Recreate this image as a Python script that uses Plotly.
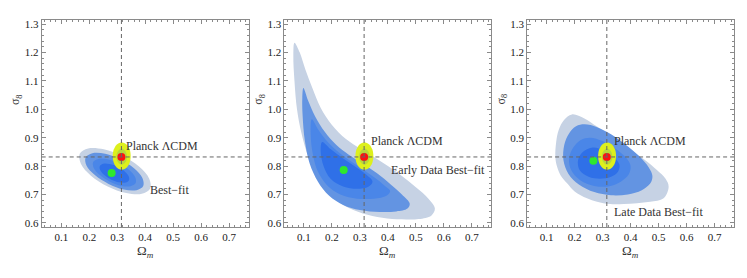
import plotly.graph_objects as go

# ---------------- data ----------------
X_RANGE = [0.03, 0.77]
Y_RANGE = [0.585, 1.315]
X_TICKS = [0.1, 0.2, 0.3, 0.4, 0.5, 0.6, 0.7]
Y_TICKS = [0.6, 0.7, 0.8, 0.9, 1.0, 1.1, 1.2, 1.3]

PLANCK_OM = 0.315
PLANCK_S8 = 0.832

BEST_OM = [0.280, 0.242, 0.267]
BEST_S8 = [0.775, 0.786, 0.819]

# Planck LCDM region (same in the three panels)
PLANCK_C1_X = [0.348, 0.344, 0.332, 0.316, 0.300, 0.288, 0.284, 0.288, 0.300, 0.316, 0.332, 0.344]
PLANCK_C1_Y = [0.835, 0.859, 0.877, 0.883, 0.877, 0.859, 0.835, 0.811, 0.793, 0.787, 0.793, 0.811]
PLANCK_C2_X = [0.335, 0.329, 0.316, 0.303, 0.297, 0.303, 0.316, 0.329]
PLANCK_C2_Y = [0.833, 0.853, 0.862, 0.853, 0.833, 0.813, 0.804, 0.813]
PLANCK_C3_X = [0.325, 0.322, 0.316, 0.310, 0.307, 0.310, 0.316, 0.322]
PLANCK_C3_Y = [0.833, 0.843, 0.847, 0.843, 0.833, 0.823, 0.819, 0.823]

# Panel 1: all data
P1_L1_X = [0.418, 0.414, 0.378, 0.318, 0.252, 0.196, 0.166, 0.170, 0.206, 0.266, 0.332, 0.388]
P1_L1_Y = [0.721, 0.756, 0.798, 0.836, 0.859, 0.862, 0.843, 0.808, 0.766, 0.728, 0.705, 0.702]
P1_L2_X = [0.393, 0.390, 0.360, 0.311, 0.257, 0.211, 0.187, 0.190, 0.220, 0.269, 0.324, 0.369]
P1_L2_Y = [0.730, 0.758, 0.792, 0.823, 0.843, 0.845, 0.830, 0.802, 0.768, 0.737, 0.717, 0.715]
P1_L3_X = [0.366, 0.364, 0.342, 0.306, 0.266, 0.232, 0.214, 0.216, 0.238, 0.274, 0.315, 0.348]
P1_L3_Y = [0.740, 0.761, 0.787, 0.809, 0.824, 0.825, 0.814, 0.793, 0.768, 0.745, 0.730, 0.729]
P1_L4_X = [0.342, 0.341, 0.326, 0.301, 0.273, 0.250, 0.238, 0.239, 0.254, 0.279, 0.307, 0.330]
P1_L4_Y = [0.750, 0.764, 0.782, 0.798, 0.807, 0.808, 0.800, 0.786, 0.768, 0.752, 0.743, 0.742]

# Panel 2: early data
P2_L1_X = [0.066, 0.085, 0.105, 0.130, 0.160, 0.200, 0.250, 0.300, 0.350, 0.400, 0.450, 0.500, 0.545, 0.568,
           0.555, 0.510, 0.450, 0.380, 0.310, 0.245, 0.190, 0.145, 0.113, 0.090, 0.075, 0.066, 0.062]
P2_L1_Y = [1.235, 1.200, 1.140, 1.075, 1.005, 0.945, 0.895, 0.862, 0.832, 0.800, 0.765, 0.725, 0.685, 0.650,
           0.625, 0.613, 0.612, 0.618, 0.633, 0.660, 0.705, 0.770, 0.840, 0.920, 1.000, 1.100, 1.190]
P2_L2_X = [0.098, 0.115, 0.140, 0.175, 0.215, 0.260, 0.310, 0.360, 0.410, 0.450, 0.478,
           0.470, 0.430, 0.370, 0.300, 0.240, 0.190, 0.150, 0.120, 0.103, 0.095, 0.094]
P2_L2_Y = [1.075, 1.030, 0.975, 0.920, 0.875, 0.840, 0.808, 0.775, 0.735, 0.700, 0.668,
           0.650, 0.640, 0.638, 0.645, 0.663, 0.695, 0.745, 0.810, 0.890, 0.980, 1.040]
P2_L3_X = [0.128, 0.150, 0.185, 0.225, 0.270, 0.320, 0.365, 0.395, 0.408,
           0.395, 0.350, 0.290, 0.230, 0.185, 0.150, 0.132, 0.124]
P2_L3_Y = [0.965, 0.930, 0.885, 0.848, 0.815, 0.782, 0.750, 0.725, 0.712,
           0.695, 0.685, 0.685, 0.700, 0.730, 0.780, 0.840, 0.910]
P2_L4_X = [0.165, 0.195, 0.235, 0.280, 0.320, 0.345, 0.330, 0.290, 0.240, 0.195, 0.170, 0.160]
P2_L4_Y = [0.885, 0.860, 0.830, 0.800, 0.772, 0.745, 0.727, 0.720, 0.728, 0.755, 0.800, 0.850]

# Panel 3: late data
P3_L1_X = [0.190, 0.235, 0.280, 0.340, 0.399, 0.450, 0.494, 0.525, 0.536, 0.518, 0.470, 0.423, 0.375,
           0.327, 0.280, 0.244, 0.200, 0.173, 0.150, 0.137, 0.131, 0.134, 0.143, 0.162]
P3_L1_Y = [0.982, 0.968, 0.939, 0.900, 0.857, 0.822, 0.786, 0.755, 0.727, 0.686, 0.674, 0.669, 0.666,
           0.666, 0.674, 0.686, 0.710, 0.739, 0.767, 0.798, 0.833, 0.885, 0.927, 0.962]
P3_L2_X = [0.235, 0.280, 0.330, 0.380, 0.430, 0.465, 0.478, 0.470, 0.440, 0.390, 0.330, 0.270, 0.215,
           0.178, 0.160, 0.163, 0.180, 0.205]
P3_L2_Y = [0.947, 0.937, 0.912, 0.877, 0.835, 0.795, 0.765, 0.738, 0.715, 0.700, 0.697, 0.708, 0.735,
           0.772, 0.820, 0.875, 0.915, 0.940]
P3_L3_X = [0.255, 0.300, 0.345, 0.385, 0.400, 0.393, 0.365, 0.320, 0.270, 0.220, 0.188, 0.180, 0.195, 0.222]
P3_L3_Y = [0.900, 0.888, 0.862, 0.828, 0.800, 0.770, 0.745, 0.728, 0.730, 0.750, 0.785, 0.825, 0.865, 0.892]
P3_L4_X = [0.265, 0.305, 0.340, 0.360, 0.355, 0.330, 0.290, 0.250, 0.218, 0.212, 0.230]
P3_L4_Y = [0.865, 0.855, 0.832, 0.805, 0.780, 0.762, 0.755, 0.762, 0.785, 0.820, 0.850]

LABEL_PLANCK = "Planck ΛCDM"
LABEL_FITS = ["Best−fit", "Early Data Best−fit", "Late Data Best−fit"]
PLANCK_LABEL_POS = [(0.324, 0.871), (0.334, 0.888), (0.334, 0.888)]
FIT_LABEL_POS = [(0.410, 0.715), (0.405, 0.786), (0.334, 0.639)]

# ---------------- styling ----------------
BLUES = ["#c6d2e4", "#6394e2", "#4a86e8", "#2f70e8"]
YELLOWS = ["#ddf01c", "#b8d83c", "#8fc25c"]
SERIF = "Liberation Serif"

panels = [
    [(P1_L1_X, P1_L1_Y), (P1_L2_X, P1_L2_Y), (P1_L3_X, P1_L3_Y), (P1_L4_X, P1_L4_Y)],
    [(P2_L1_X, P2_L1_Y), (P2_L2_X, P2_L2_Y), (P2_L3_X, P2_L3_Y), (P2_L4_X, P2_L4_Y)],
    [(P3_L1_X, P3_L1_Y), (P3_L2_X, P3_L2_Y), (P3_L3_X, P3_L3_Y), (P3_L4_X, P3_L4_Y)],
]
planck = [(PLANCK_C1_X, PLANCK_C1_Y), (PLANCK_C2_X, PLANCK_C2_Y), (PLANCK_C3_X, PLANCK_C3_Y)]

# the page body has an 8px margin; the figure is sized and placed to compensate
PAGE_MARGIN = 8
W, H = 747 - 2 * PAGE_MARGIN, 278 - 2 * PAGE_MARGIN
left_px = [41.7 - PAGE_MARGIN, 284.4 - PAGE_MARGIN, 527.1 - PAGE_MARGIN]
frame_w = 207.0
top_px, bot_px = 20.0 - PAGE_MARGIN, 227.0 - PAGE_MARGIN

fig = go.Figure()


def closed(xs, ys):
    return list(xs) + [xs[0]], list(ys) + [ys[0]]


for i, levels in enumerate(panels):
    xa = "x" if i == 0 else f"x{i+1}"
    ya = "y" if i == 0 else f"y{i+1}"
    for lev, (xs, ys) in enumerate(levels):
        cx, cy = closed(xs, ys)
        fig.add_trace(go.Scatter(x=cx, y=cy, mode="lines", fill="toself", fillcolor=BLUES[lev],
                                 line=dict(width=0, shape="spline", smoothing=1.0, color=BLUES[lev]),
                                 xaxis=xa, yaxis=ya, hoverinfo="skip", showlegend=False))
    for lev, (xs, ys) in enumerate(planck):
        cx, cy = closed(xs, ys)
        fig.add_trace(go.Scatter(x=cx, y=cy, mode="lines", fill="toself", fillcolor=YELLOWS[lev],
                                 line=dict(width=0, shape="spline", smoothing=1.0, color=YELLOWS[lev]),
                                 xaxis=xa, yaxis=ya, hoverinfo="skip", showlegend=False))
    fig.add_trace(go.Scatter(x=[BEST_OM[i]], y=[BEST_S8[i]], mode="markers",
                             marker=dict(color="#2ee82e", size=8, line=dict(width=0)),
                             xaxis=xa, yaxis=ya, hoverinfo="skip", showlegend=False))
    fig.add_trace(go.Scatter(x=[PLANCK_OM], y=[PLANCK_S8], mode="markers",
                             marker=dict(color="#ff1010", size=8, line=dict(width=0)),
                             xaxis=xa, yaxis=ya, hoverinfo="skip", showlegend=False))

layout = dict(width=W, height=H, margin=dict(l=0, r=0, t=0, b=0, autoexpand=False),
              paper_bgcolor="white", plot_bgcolor="white", showlegend=False)

shapes = []
annotations = []
for i in range(3):
    sfx = "" if i == 0 else str(i + 1)
    x0 = left_px[i] / W
    x1 = (left_px[i] + frame_w) / W
    common = dict(showgrid=False, zeroline=False, showline=True, linecolor="#8a8a8a", linewidth=1,
                  mirror="allticks", ticks="inside", ticklen=4, tickcolor="#8a8a8a", tickwidth=1,
                  automargin=False,
                  tickfont=dict(family=SERIF, size=11, color="#222222"))
    layout["xaxis" + sfx] = dict(common, range=X_RANGE, domain=[x0, x1], anchor="y" + sfx,
                                 tickvals=X_TICKS, ticktext=[f"{v:.1f}" for v in X_TICKS],
                                 minor=dict(ticks="inside", ticklen=2, tick0=0, dtick=0.02,
                                            tickcolor="#8a8a8a", showgrid=False))
    layout["yaxis" + sfx] = dict(common, range=Y_RANGE, domain=[1 - bot_px / H, 1 - top_px / H],
                                 anchor="x" + sfx,
                                 tickvals=Y_TICKS, ticktext=[f"{v:.1f}" for v in Y_TICKS],
                                 minor=dict(ticks="inside", ticklen=2, tick0=0, dtick=0.02,
                                            tickcolor="#8a8a8a", showgrid=False))
    xr = "x" + sfx
    yr = "y" + sfx
    shapes.append(dict(type="line", xref=xr + " domain", x0=0, x1=1, yref=yr, y0=PLANCK_S8, y1=PLANCK_S8,
                       line=dict(color="#666666", width=1, dash="4px,3px"), layer="above"))
    shapes.append(dict(type="line", xref=xr, x0=PLANCK_OM, x1=PLANCK_OM, yref=yr + " domain", y0=0, y1=1,
                       line=dict(color="#666666", width=1, dash="4px,3px"), layer="above"))
    px_, py_ = PLANCK_LABEL_POS[i]
    annotations.append(dict(x=px_, y=py_, xref=xr, yref=yr, text=LABEL_PLANCK, showarrow=False,
                            xanchor="left", yanchor="middle",
                            font=dict(family=SERIF, size=12, color="#333333")))
    fx, fy = FIT_LABEL_POS[i]
    annotations.append(dict(x=fx, y=fy, xref=xr, yref=yr, text=LABEL_FITS[i], showarrow=False,
                            xanchor="left", yanchor="middle",
                            font=dict(family=SERIF, size=12, color="#333333")))
    annotations.append(dict(x=0.5, y=0, xref=xr + " domain", yref=yr + " domain", yshift=-14,
                            text="Ω<sub><i>m</i></sub>", showarrow=False, xanchor="center", yanchor="top",
                            font=dict(family=SERIF, size=13, color="#333333")))
    annotations.append(dict(x=0, y=1.035, xref=xr + " domain", yref=yr, xshift=-25,
                            text="σ<sub>8</sub>", showarrow=False, textangle=-90,
                            xanchor="center", yanchor="middle",
                            font=dict(family=SERIF, size=12, color="#333333")))

layout["shapes"] = shapes
layout["annotations"] = annotations
fig.update_layout(**layout)

fig.write_html("out.html")
